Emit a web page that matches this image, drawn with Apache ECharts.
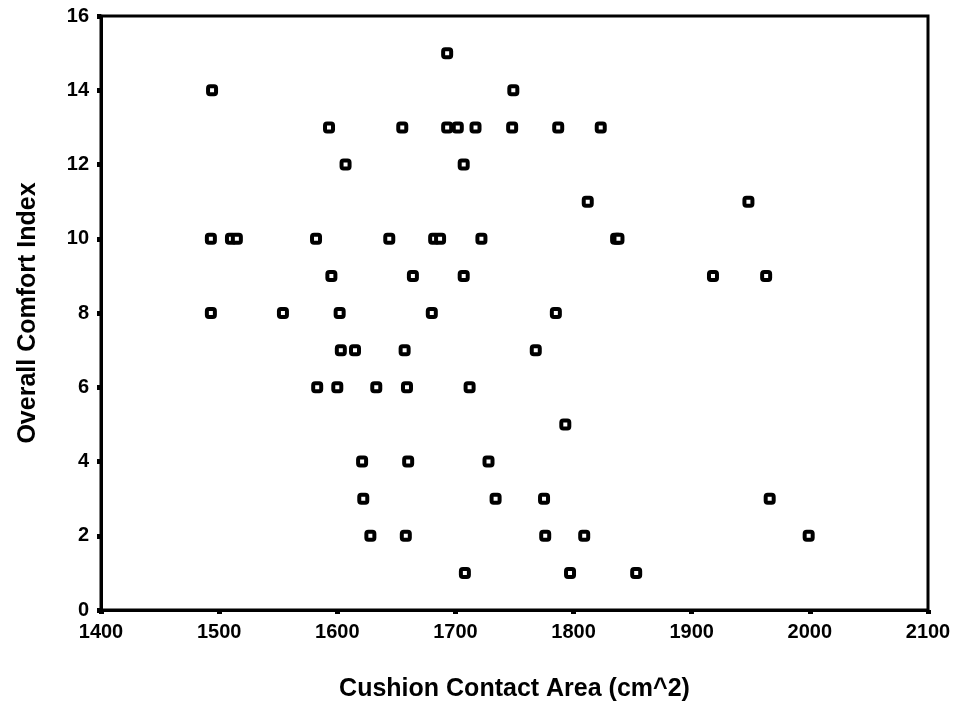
<!DOCTYPE html>
<html>
<head>
<meta charset="utf-8">
<script src="https://cdn.jsdelivr.net/npm/echarts@6/dist/echarts.min.js"></script>
<style>html,body{margin:0;padding:0;background:#fff}#c{width:961px;height:717px}</style>
</head>
<body>
<div id="c"></div>
<script>
// Cushion contact area (cm^2) of each subject
var contactArea = [
  1693,
  1494, 1749,
  1593, 1655, 1693, 1702, 1717, 1748, 1787, 1823,
  1607, 1707,
  1812, 1948,
  1493, 1510, 1515, 1582, 1644, 1682, 1687, 1722, 1836, 1838,
  1595, 1664, 1707, 1918, 1963,
  1493, 1554, 1602, 1680, 1785,
  1603, 1615, 1657, 1768,
  1583, 1600, 1633, 1659, 1712,
  1793,
  1621, 1660, 1728,
  1622, 1734, 1775, 1966,
  1628, 1658, 1776, 1809, 1999,
  1708, 1797, 1853
];
// Overall comfort index of each subject
var comfortIndex = [
  15,
  14, 14,
  13, 13, 13, 13, 13, 13, 13, 13,
  12, 12,
  11, 11,
  10, 10, 10, 10, 10, 10, 10, 10, 10, 10,
  9, 9, 9, 9, 9,
  8, 8, 8, 8, 8,
  7, 7, 7, 7,
  6, 6, 6, 6, 6,
  5,
  4, 4, 4,
  3, 3, 3, 3,
  2, 2, 2, 2, 2,
  1, 1, 1
];
var xTitle = 'Cushion Contact Area (cm^2)';
var yTitle = 'Overall Comfort Index';

var pts = contactArea.map(function (x, i) { return [x, comfortIndex[i]]; });
var chart = echarts.init(document.getElementById('c'));
var font = 'Arial, "Liberation Sans", Helvetica, sans-serif';
chart.setOption({
  animation: false,
  backgroundColor: '#fff',
  grid: { left: 101, right: 33, top: 16, bottom: 107, show: true, borderColor: '#000', borderWidth: 3, backgroundColor: 'transparent' },
  xAxis: {
    type: 'value', min: 1400, max: 2100, interval: 100,
    name: xTitle, nameLocation: 'middle', nameGap: 67,
    nameTextStyle: { fontFamily: font, fontSize: 25, fontWeight: 'bold', color: '#000' },
    axisLine: { show: true, lineStyle: { color: '#000', width: 3 } },
    axisTick: { show: true, inside: false, length: 4, lineStyle: { color: '#000', width: 5 } },
    axisLabel: { margin: 12, fontFamily: font, fontSize: 20, fontWeight: 'bold', color: '#000',
      formatter: function (v) { return String(v); } },
    splitLine: { show: false }
  },
  yAxis: {
    type: 'value', min: 0, max: 16, interval: 2,
    name: yTitle, nameLocation: 'middle', nameGap: 60, nameRotate: 90,
    nameTextStyle: { fontFamily: font, fontSize: 25, fontWeight: 'bold', color: '#000' },
    axisLine: { show: true, lineStyle: { color: '#000', width: 3 } },
    axisTick: { show: true, inside: false, length: 4, lineStyle: { color: '#000', width: 5 } },
    axisLabel: { margin: 12, fontFamily: font, fontSize: 20, fontWeight: 'bold', color: '#000' },
    splitLine: { show: false }
  },
  series: [{
    type: 'scatter',
    data: pts,
    symbol: 'roundRect',
    symbolSize: 8,
    itemStyle: { color: '#fff', borderColor: '#000', borderWidth: 4, opacity: 1 }
  }]
});
</script>
</body>
</html>
